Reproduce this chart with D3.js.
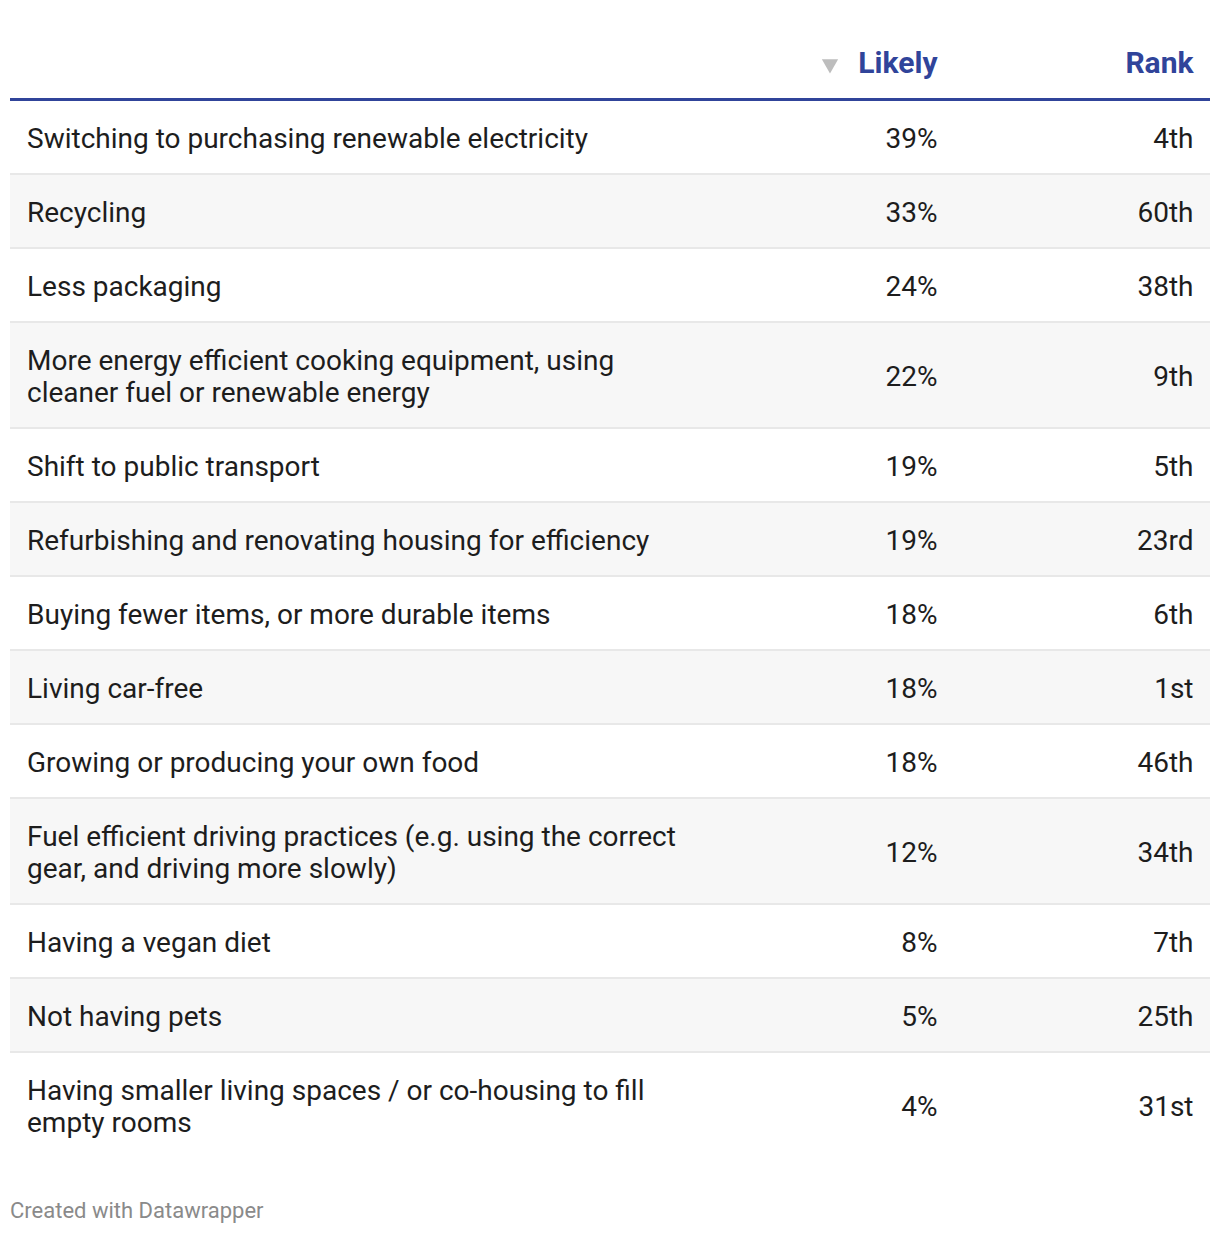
<!DOCTYPE html>
<html><head><meta charset="utf-8">
<script src="https://cdn.jsdelivr.net/npm/d3@7"></script>
<style>
html,body{margin:0;padding:0;background:#fff;}
svg text{font-family:Roboto,"Noto Sans",sans-serif;}
</style></head>
<body>
<svg id="chart" width="1220" height="1234"></svg>
<script>
const categories = [
  "Switching to purchasing renewable electricity",
  "Recycling",
  "Less packaging",
  "More energy efficient cooking equipment, using cleaner fuel or renewable energy",
  "Shift to public transport",
  "Refurbishing and renovating housing for efficiency",
  "Buying fewer items, or more durable items",
  "Living car-free",
  "Growing or producing your own food",
  "Fuel efficient driving practices (e.g. using the correct gear, and driving more slowly)",
  "Having a vegan diet",
  "Not having pets",
  "Having smaller living spaces / or co-housing to fill empty rooms"
];
const likely = [39, 33, 24, 22, 19, 19, 18, 18, 18, 12, 8, 5, 4];
const rank = ["4th", "60th", "38th", "9th", "5th", "23rd", "6th", "1st", "46th", "34th", "7th", "25th", "31st"];
const headers = ["", "Likely", "Rank"];
const footer = "Created with Datawrapper";

const svg = d3.select("#chart");
const left = 10, right = 1210;
const blue = "#30449a";
const textColor = "#1d1d1d";
const fontSize = 28, lineH = 32, maxLabelW = 678;

// header
const headerY = 62.5;
const xLikely = 937.5, xRank = 1193.5;
[[xLikely, headers[1]], [xRank, headers[2]]].forEach(([x, t]) => {
  svg.append("text").attr("x", x).attr("y", headerY).attr("dy", "0.35em")
    .attr("text-anchor", "end").attr("font-size", 30).attr("font-weight", 700)
    .attr("fill", blue).text(t);
});
// sort triangle
svg.append("path")
  .attr("d", d3.symbol().type(d3.symbolTriangle).size(115)())
  .attr("transform", "translate(830,64) rotate(180)")
  .attr("fill", "#bdbdbd");

svg.append("rect").attr("x", left).attr("y", 98).attr("width", right - left).attr("height", 3).attr("fill", blue);

// wrap labels
const measure = svg.append("text").attr("font-size", fontSize).attr("visibility", "hidden");
function wrap(str) {
  const words = str.split(" ");
  const lines = [];
  let cur = "";
  words.forEach(w => {
    const test = cur ? cur + " " + w : w;
    measure.text(test);
    if (measure.node().getComputedTextLength() > maxLabelW && cur) {
      lines.push(cur); cur = w;
    } else cur = test;
  });
  lines.push(cur);
  return lines;
}
const rows = categories.map((c, i) => ({ label: c, lines: wrap(c), likely: likely[i], rank: rank[i], i }));
measure.remove();

let y = 101;
rows.forEach(r => {
  r.h = 72 + (r.lines.length - 1) * lineH;
  r.y = y;
  y += r.h + 2;
});

const fmt = d => d + "%";
const rg = svg.append("g").selectAll("g.row").data(rows).join("g").attr("class", "row");
rg.append("rect").attr("x", left).attr("y", d => d.y).attr("width", right - left).attr("height", d => d.h)
  .attr("fill", d => d.i % 2 ? "#f7f7f7" : "#ffffff");
rg.filter(d => d.i < rows.length - 1).append("rect").attr("x", left).attr("y", d => d.y + d.h)
  .attr("width", right - left).attr("height", 2).attr("fill", "#e8e8e8");
rg.each(function(d) {
  const sel = d3.select(this);
  const cy = d.y + d.h / 2 + 1;
  const t = sel.append("text").attr("x", 27).attr("font-size", fontSize).attr("fill", textColor);
  const n = d.lines.length;
  d.lines.forEach((ln, k) => {
    t.append("tspan").attr("x", 27).attr("y", cy + (k - (n - 1) / 2) * lineH).attr("dy", "0.35em").text(ln);
  });
  sel.append("text").attr("x", xLikely).attr("y", cy).attr("dy", "0.35em").attr("text-anchor", "end")
    .attr("font-size", fontSize).attr("fill", textColor).text(fmt(d.likely));
  sel.append("text").attr("x", xRank).attr("y", cy).attr("dy", "0.35em").attr("text-anchor", "end")
    .attr("font-size", fontSize).attr("fill", textColor).text(d.rank);
});

svg.append("text").attr("x", 10).attr("y", 1210).attr("dy", "0.35em").attr("font-size", 22)
  .attr("fill", "#8a8a8a").text(footer);
</script>
</body></html>
